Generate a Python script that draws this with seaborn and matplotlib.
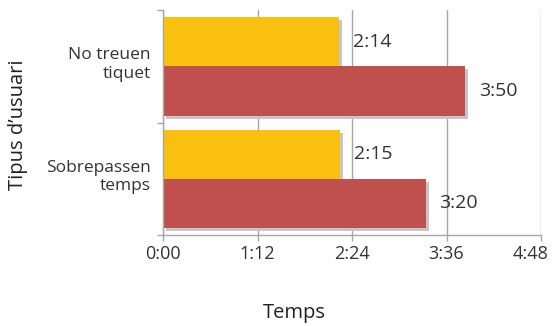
import matplotlib
matplotlib.use("Agg")
import matplotlib.pyplot as plt
import matplotlib.patheffects as pe
from matplotlib.ticker import FuncFormatter
from matplotlib.transforms import ScaledTranslation
import pandas as pd
import seaborn as sns

# Data: times in seconds
categories = ["No treuen\ntiquet", "Sobrepassen\ntemps"]
series_names = ["Sèrie 1", "Sèrie 2"]
values_yellow = [134, 135]   # 2:14, 2:15
values_red = [230, 200]      # 3:50, 3:20
time_ticks = [0, 72, 144, 216, 288]
colors = ["#FAC00F", "#C0504D"]


def mmss(sec, _pos=None):
    sec = int(round(sec))
    return f"{sec // 60}:{sec % 60:02d}"


df = pd.DataFrame({
    "Tipus": categories * 2,
    "Temps": values_yellow + values_red,
    "Sèrie": [series_names[0]] * len(categories) + [series_names[1]] * len(categories),
})

sns.set_theme(style="white")
plt.rcParams["font.family"] = ["Open Sans", "DejaVu Sans"]

fig = plt.figure(figsize=(5.52, 3.26), dpi=100)
ax = fig.add_axes([0.2953, 0.279, 0.6848, 0.690])

sns.barplot(data=df, y="Tipus", x="Temps", hue="Sèrie", palette=colors,
            orient="h", width=0.875, saturation=1, legend=False, ax=ax)

shadow = [pe.SimplePatchShadow(offset=(2.2, -2.2), shadow_rgbFace="#c6c6c6", alpha=1.0),
          pe.Normal()]
for patch in ax.patches:
    patch.set_linewidth(0)
    patch.set_path_effects(shadow)

for cont in ax.containers:
    ax.bar_label(cont, labels=[mmss(b.get_width()) for b in cont],
                 padding=10, fontsize=14, color="#333333")

ax.set_xlim(time_ticks[0], time_ticks[-1])
ax.set_xticks(time_ticks)
ax.xaxis.set_major_formatter(FuncFormatter(mmss))
ax.set_ylim(1.5, -0.5)
ax.set_yticks([0, 1])
ax.set_yticks([-0.5, 0.5, 1.5], minor=True)

ax.set_axisbelow(True)
ax.xaxis.grid(True, color="#a6a6a6", linewidth=1)
ax.yaxis.grid(False)

for side in ["top", "right"]:
    ax.spines[side].set_visible(False)
for side in ["left", "bottom"]:
    ax.spines[side].set_color("#a6a6a6")
    ax.spines[side].set_linewidth(1)

ax.tick_params(axis="x", which="major", bottom=True, length=4, width=1,
               color="#a6a6a6", pad=3, labelsize=13, labelcolor="#333333")
ax.tick_params(axis="y", which="major", left=False, length=0, pad=9,
               labelsize=12.5, labelcolor="#333333")
ax.tick_params(axis="y", which="minor", left=True, length=4, width=1,
               color="#a6a6a6")

# keep the last time label inside the figure
last_tick = ax.xaxis.get_major_ticks()[len(time_ticks) - 1]
last_tick.label1.set_horizontalalignment("right")
last_tick.label1.set_transform(last_tick.label1.get_transform()
                               + ScaledTranslation(7 / 100, 0, fig.dpi_scale_trans))

# raise the category labels slightly
for tick in ax.yaxis.get_major_ticks()[:len(categories)]:
    tick.label1.set_transform(tick.label1.get_transform()
                              + ScaledTranslation(0, 5 / 100, fig.dpi_scale_trans))

ax.set_xlabel("")
ax.set_ylabel("")

fig.text(0.533, 0.04, "Temps", ha="center", va="center", fontsize=14.5, color="#222222")
fig.text(0.033, 0.617, "Tipus d’usuari", ha="center", va="center", rotation=90,
         fontsize=14.5, color="#222222")

fig.savefig("out.png", dpi=100)
